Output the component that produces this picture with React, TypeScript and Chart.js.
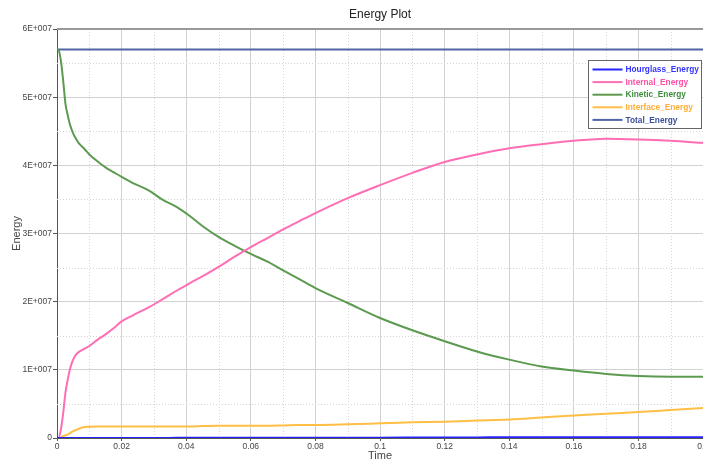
import React, { useEffect, useRef } from 'react';
import { Chart, registerables } from 'chart.js';

Chart.register(...registerables);

// ---- data (energies in units of 1E+007) ----
const TIME = [
  0, 0.0005, 0.0013, 0.002, 0.0026, 0.0033, 0.004, 0.005, 0.006, 0.007, 0.0085,
  0.01, 0.0125, 0.015, 0.0175, 0.02, 0.0235, 0.0285, 0.0325, 0.037, 0.041,
  0.045, 0.05, 0.055, 0.06, 0.065, 0.07, 0.075, 0.08, 0.09, 0.1, 0.11, 0.12,
  0.13, 0.14, 0.15, 0.16, 0.17, 0.18, 0.19, 0.2,
];
const HOURGLASS = [
  0, 0, 0, 0, 0, 0, 0, 0, 0, 0, 0,
  0, 0, 0, 0, 0, 0, 0, 0, 0.003, 0.003,
  0.003, 0.003, 0.003, 0.004, 0.004, 0.004, 0.004, 0.005, 0.005, 0.005, 0.006, 0.008,
  0.009, 0.01, 0.01, 0.01, 0.01, 0.01, 0.01, 0.01,
];
const INTERNAL = [
  0, 0, 0.15, 0.4, 0.66, 0.85, 1.01, 1.15, 1.23, 1.27, 1.31,
  1.35, 1.44, 1.52, 1.61, 1.71, 1.8, 1.92, 2.03, 2.16, 2.27,
  2.37, 2.51, 2.66, 2.8, 2.93, 3.06, 3.18, 3.3, 3.52, 3.71, 3.89, 4.05,
  4.16, 4.25, 4.31, 4.36, 4.39, 4.38, 4.36, 4.33,
];
const KINETIC = [
  5.7, 5.69, 5.5, 5.2, 4.91, 4.74, 4.6, 4.47, 4.38, 4.31, 4.24,
  4.16, 4.06, 3.97, 3.9, 3.83, 3.74, 3.63, 3.5, 3.39, 3.26,
  3.11, 2.95, 2.82, 2.7, 2.59, 2.46, 2.33, 2.2, 1.98, 1.76, 1.58, 1.42,
  1.27, 1.15, 1.05, 0.99, 0.94, 0.91, 0.9, 0.9,
];
const INTERFACE = [
  0, 0, 0.01, 0.03, 0.04, 0.05, 0.07, 0.1, 0.12, 0.14, 0.16,
  0.165, 0.17, 0.17, 0.17, 0.17, 0.17, 0.17, 0.17, 0.17, 0.17,
  0.175, 0.18, 0.18, 0.18, 0.18, 0.185, 0.19, 0.19, 0.2, 0.215, 0.23, 0.24,
  0.255, 0.27, 0.3, 0.33, 0.355, 0.38, 0.41, 0.44,
];
const TOTAL = [
  5.7, 5.7, 5.7, 5.7, 5.7, 5.7, 5.7, 5.7, 5.7, 5.7, 5.7,
  5.7, 5.7, 5.7, 5.7, 5.7, 5.7, 5.7, 5.7, 5.7, 5.7,
  5.7, 5.7, 5.7, 5.7, 5.7, 5.7, 5.7, 5.7, 5.7, 5.7, 5.7, 5.7,
  5.7, 5.7, 5.7, 5.7, 5.7, 5.7, 5.7, 5.7,
];
const UNIT = 1e7;

const SERIES_LABELS = ['Hourglass_Energy', 'Internal_Energy', 'Kinetic_Energy', 'Interface_Energy', 'Total_Energy'];
const SERIES_VALUES = [HOURGLASS, INTERNAL, KINETIC, INTERFACE, TOTAL];
const LINE_COLORS = ['#2424ff', '#ff6eb4', '#5c9a50', '#ffbe46', '#5064a6'];
const TEXT_COLORS = ['#3333ff', '#ff4fa5', '#3d8b3d', '#ffad33', '#3a4d99'];

const X_MIN = 0, X_MAX = 0.2, X_STEP = 0.02;
const Y_MIN = 0, Y_MAX = 6e7, Y_STEP = 1e7;

const TITLE = 'Energy Plot';
const X_TITLE = 'Time';
const Y_TITLE = 'Energy';

const FONT = '"Liberation Sans", Arial, sans-serif';

const minorGridPlugin = {
  id: 'minorGrid',
  beforeDatasetsDraw(chart: any) {
    const { ctx, chartArea: a, scales } = chart;
    const x = scales.x, y = scales.y;
    ctx.save();
    ctx.strokeStyle = '#d6d6d6';
    ctx.lineWidth = 1;
    ctx.setLineDash([1, 2]);
    for (let v = X_MIN + X_STEP / 2; v < X_MAX; v += X_STEP) {
      const px = Math.round(x.getPixelForValue(v)) + 0.5;
      ctx.beginPath();
      ctx.moveTo(px, a.top);
      ctx.lineTo(px, a.bottom);
      ctx.stroke();
    }
    for (let v = Y_MIN + Y_STEP / 2; v < Y_MAX; v += Y_STEP) {
      const py = Math.round(y.getPixelForValue(v)) + 0.5;
      ctx.beginPath();
      ctx.moveTo(a.left, py);
      ctx.lineTo(a.right, py);
      ctx.stroke();
    }
    ctx.setLineDash([]);
    // top frame line
    ctx.strokeStyle = '#999999';
    ctx.lineWidth = 2;
    ctx.beginPath();
    ctx.moveTo(a.left, a.top);
    ctx.lineTo(a.right + 10, a.top);
    ctx.stroke();
    ctx.restore();
  },
};

const boxLegendPlugin = {
  id: 'boxLegend',
  afterDraw(chart: any) {
    const { ctx, chartArea: a } = chart;
    const w = 113, h = 68;
    const left = Math.round(a.right) - w - 1.5;
    const top = Math.round(a.top) + 31.5;
    ctx.save();
    ctx.fillStyle = '#ffffff';
    ctx.fillRect(left, top, w, h);
    ctx.strokeStyle = '#666666';
    ctx.lineWidth = 1;
    ctx.strokeRect(left, top, w, h);
    ctx.font = `bold 8.3px ${FONT}`;
    ctx.textBaseline = 'middle';
    chart.data.datasets.forEach((ds: any, i: number) => {
      const cy = top + 9 + i * 12.6;
      ctx.strokeStyle = LINE_COLORS[i];
      ctx.lineWidth = 2;
      ctx.beginPath();
      ctx.moveTo(left + 4, cy);
      ctx.lineTo(left + 34, cy);
      ctx.stroke();
      ctx.fillStyle = TEXT_COLORS[i];
      ctx.fillText(ds.label, left + 37, cy + 0.5);
    });
    ctx.restore();
  },
};

export default function App() {
  const ref = useRef<HTMLCanvasElement | null>(null);

  useEffect(() => {
    if (!ref.current) return;
    const datasets = SERIES_LABELS.map((label, i) => ({
      label,
      data: TIME.map((t, k) => ({ x: t, y: SERIES_VALUES[i][k] * UNIT })),
      borderColor: LINE_COLORS[i],
      backgroundColor: LINE_COLORS[i],
      borderWidth: 2,
      pointRadius: 0,
      cubicInterpolationMode: 'monotone',
      fill: false,
    }));

    const chart = new Chart(ref.current, {
      type: 'line',
      data: { datasets },
      plugins: [minorGridPlugin, boxLegendPlugin],
      options: {
        responsive: false,
        animation: false,
        devicePixelRatio: 1,
        layout: { padding: 0 },
        plugins: {
          legend: { display: false },
          tooltip: { enabled: false },
          title: {
            display: true,
            text: TITLE,
            fullSize: false,
            color: '#222222',
            font: { family: FONT, size: 12, weight: 'normal' },
            padding: { top: 7, bottom: 7.6 },
          },
        },
        scales: {
          x: {
            type: 'linear',
            min: X_MIN,
            max: X_MAX,
            afterFit: (s: any) => { s.height = 23; },
            ticks: {
              stepSize: X_STEP,
              color: '#444444',
              font: { family: FONT, size: 8.5, lineHeight: 1 },
              padding: 1,
              maxRotation: 0,
              callback: (v: any) => String(Math.round(Number(v) * 1000) / 1000),
            },
            grid: { color: '#d2d2d2', lineWidth: 1, tickLength: 3, tickColor: '#555555' },
            border: { color: '#555555', width: 1 },
            title: {
              display: true,
              text: X_TITLE,
              color: '#444444',
              font: { family: FONT, size: 11, lineHeight: 1 },
              padding: { top: 0, bottom: 0 },
            },
          },
          y: {
            type: 'linear',
            min: Y_MIN,
            max: Y_MAX,
            afterFit: (s: any) => { s.width = 57; },
            ticks: {
              stepSize: Y_STEP,
              color: '#444444',
              font: { family: FONT, size: 8.5 },
              padding: 1,
              callback: (v: any) => (Number(v) === 0 ? '0' : `${Math.round(Number(v) / 1e7)}E+007`),
            },
            grid: { color: '#d2d2d2', lineWidth: 1, tickLength: 4, tickColor: '#555555' },
            border: { color: '#555555', width: 1 },
            title: {
              display: true,
              text: Y_TITLE,
              color: '#444444',
              font: { family: FONT, size: 11, lineHeight: 1 },
              padding: { top: 11, bottom: 0 },
            },
          },
        },
      } as any,
    });
    return () => chart.destroy();
  }, []);

  return (
    <div style={{ position: 'fixed', left: 0, top: 0, width: 703, height: 461, overflow: 'hidden', background: '#fff' }}>
      <canvas ref={ref} width={710} height={461} style={{ display: 'block' }} />
    </div>
  );
}
